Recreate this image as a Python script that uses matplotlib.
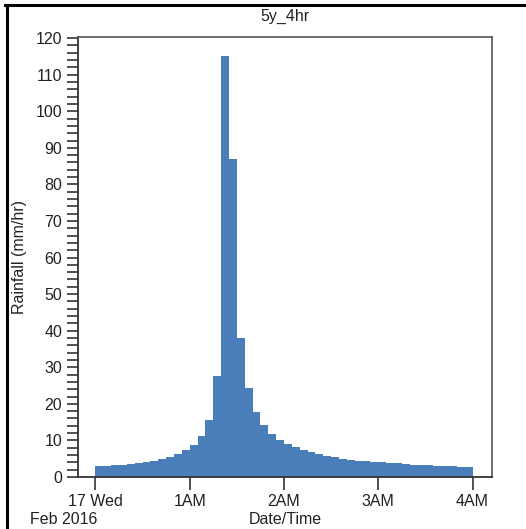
import numpy as np
import matplotlib.pyplot as plt
from matplotlib.lines import Line2D
from matplotlib.ticker import MultipleLocator

plt.rcParams['font.family'] = ['Liberation Sans', 'DejaVu Sans']

# 5 minute rainfall intensities (mm/hr), 48 steps over 4 hours
rain = [2.9, 3.0, 3.2, 3.4, 3.6, 3.8, 4.1, 4.4, 4.8, 5.5, 6.4, 7.5,
        8.85, 11.1, 15.5, 27.7, 115.0, 87.0, 38.1, 24.2, 17.8, 14.1, 11.7, 10.2,
        8.9, 8.1, 7.5, 6.8, 6.3, 5.8, 5.4, 5.0, 4.7, 4.5, 4.3, 4.15,
        4.0, 3.85, 3.7, 3.6, 3.4, 3.3, 3.2, 3.1, 2.95, 2.9, 2.85, 2.8]
step_hr = 5 / 60.0
t_start = np.arange(len(rain)) * step_hr

xticks = [0, 1, 2, 3, 4]
xlabels = ['17 Wed', '1AM', '2AM', '3AM', '4AM']

W, H = 526, 529
fig = plt.figure(figsize=(W / 100, H / 100), dpi=100)
ax = fig.add_axes([78 / W, 52 / H, (492 - 78) / W, (477 - 37) / H])

ax.bar(t_start, rain, width=step_hr, align='edge', color='#4a7ebb', linewidth=0)

ax.set_xlim(-0.185, 4.206)
ax.set_ylim(0, 120.3)
ax.set_xticks(xticks)
ax.set_xticklabels(xlabels)
ax.yaxis.set_major_locator(MultipleLocator(10))
ax.yaxis.set_minor_locator(MultipleLocator(2))

txt = '#222222'
ax.tick_params(axis='both', which='both', direction='out', colors='#333333',
               labelcolor=txt, labelsize=11.5)
ax.tick_params(axis='y', which='both', length=8, width=1.2)
ax.tick_params(axis='x', length=9, width=1.2)

for s in ['top', 'right']:
    ax.spines[s].set_color('#555555')
    ax.spines[s].set_linewidth(1.2)
for s in ['left', 'bottom']:
    ax.spines[s].set_color('#333333')
    ax.spines[s].set_linewidth(1.3)

ax.set_title('5y_4hr', fontsize=11.5, color=txt, pad=11.5)
ax.set_ylabel('Rainfall (mm/hr)', fontsize=11.5, color=txt, labelpad=6)
ax.set_xlabel('Date/Time', fontsize=11.5, color=txt, labelpad=2)
fig.text(30 / W, 1 - 519 / H, 'Feb 2016', fontsize=11.5, color=txt,
         ha='left', va='center')

# outer window frame (left and top edges)
fig.add_artist(Line2D([6.5 / W, 6.5 / W], [0, 1 - 5 / H], transform=fig.transFigure,
                      color='black', linewidth=2.2))
fig.add_artist(Line2D([5 / W, 1], [1 - 5 / H, 1 - 5 / H], transform=fig.transFigure,
                      color='black', linewidth=2.2))

fig.savefig('out.png', dpi=100)
